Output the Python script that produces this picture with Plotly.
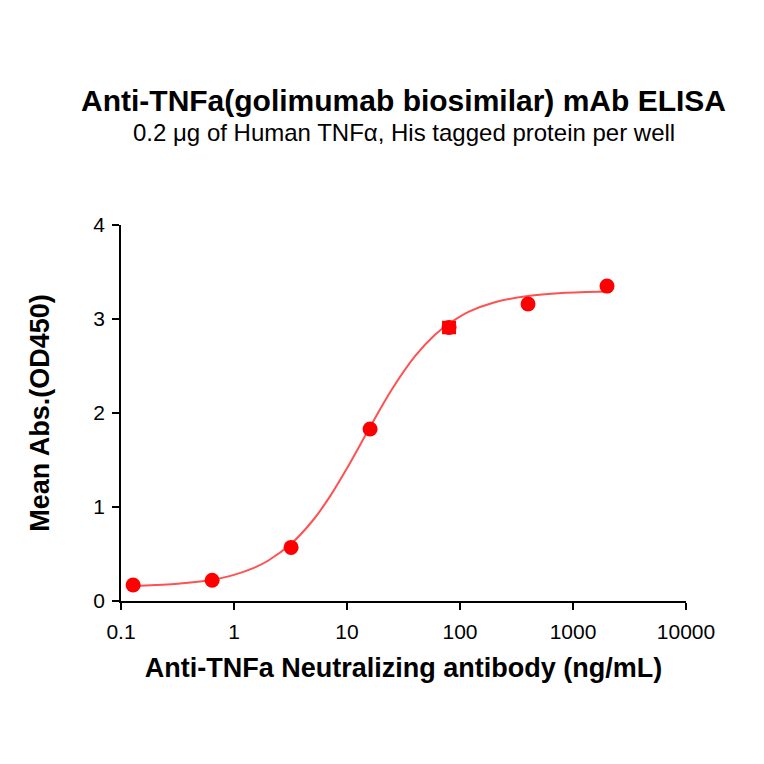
import plotly.graph_objects as go

# measured points (ng/mL, OD450)
conc = [0.128, 0.64, 3.2, 16, 80, 400, 2000]
od450 = [0.17, 0.22, 0.57, 1.83, 2.91, 3.16, 3.35]
od_err = [0, 0, 0, 0, 0.05, 0, 0]

# fitted curve
fit_x = [0.128, 0.2, 0.3, 0.5, 0.64, 1, 1.5, 2, 3.2, 5, 7, 10, 16, 25, 40, 60,
         80, 120, 200, 400, 800, 2000]
fit_y = [0.16, 0.169, 0.181, 0.207, 0.226, 0.278, 0.352, 0.428, 0.608, 0.859,
         1.105, 1.412, 1.85, 2.252, 2.604, 2.832, 2.95, 3.078, 3.176, 3.245,
         3.276, 3.292]

x_ticks = [0.1, 1, 10, 100, 1000, 10000]
x_labels = ["0.1", "1", "10", "100", "1000", "10000"]
y_ticks = [0, 1, 2, 3, 4]

red = "rgb(255,0,0)"
font = "Liberation Sans, Arial, sans-serif"

# the page body has an 8px margin, so plot box 121..686 x 225..601 on screen
m_l, m_r, m_t, m_b = 113, 86, 217, 171
plot_h = 764 - m_t - m_b

fig = go.Figure()

fig.add_trace(go.Scatter(
    x=fit_x, y=fit_y, mode="lines", line_shape="spline",
    line=dict(color="rgba(255,50,50,0.85)", width=2),
    hoverinfo="skip",
))

fig.add_trace(go.Scatter(
    x=conc, y=od450, mode="markers",
    marker=dict(color=red, size=15),
    error_y=dict(type="data", array=od_err, color=red, thickness=4, width=7),
))

fig.update_layout(
    width=764, height=764,
    margin=dict(l=m_l, r=m_r, t=m_t, b=m_b),
    paper_bgcolor="white", plot_bgcolor="white",
    showlegend=False,
    font=dict(family=font, color="black", size=20),
    annotations=[
        dict(text="<b>Anti-TNFa(golimumab biosimilar) mAb ELISA</b>",
             x=0.5, y=1 + (225 - 100) / plot_h, xref="paper", yref="paper",
             yanchor="middle", showarrow=False, font=dict(size=30)),
        dict(text="0.2 \u03bcg of Human TNF\u03b1, His tagged protein per well",
             x=0.5, y=1 + (225 - 133) / plot_h, xref="paper", yref="paper",
             yanchor="middle", showarrow=False, font=dict(size=24)),
    ],
)

fig.update_xaxes(
    type="log", range=[-1, 4],
    tickvals=x_ticks, ticktext=x_labels,
    showline=True, linecolor="black", linewidth=1.5,
    ticks="outside", ticklen=7, tickwidth=1.5, tickcolor="black",
    showgrid=False, zeroline=False,
    tickfont=dict(size=21), ticklabelstandoff=4,
    title=dict(text="<b>Anti-TNFa Neutralizing antibody (ng/mL)</b>",
               font=dict(size=27), standoff=16),
)
fig.update_yaxes(
    range=[0, 4], tickvals=y_ticks,
    showline=True, linecolor="black", linewidth=1.5,
    ticks="outside", ticklen=7, tickwidth=1.5, tickcolor="black",
    showgrid=False, zeroline=False,
    tickfont=dict(size=21), ticklabelstandoff=3,
    title=dict(text="<b>Mean Abs.(OD450)</b>", font=dict(size=27), standoff=36),
)

fig.write_html("out.html")
